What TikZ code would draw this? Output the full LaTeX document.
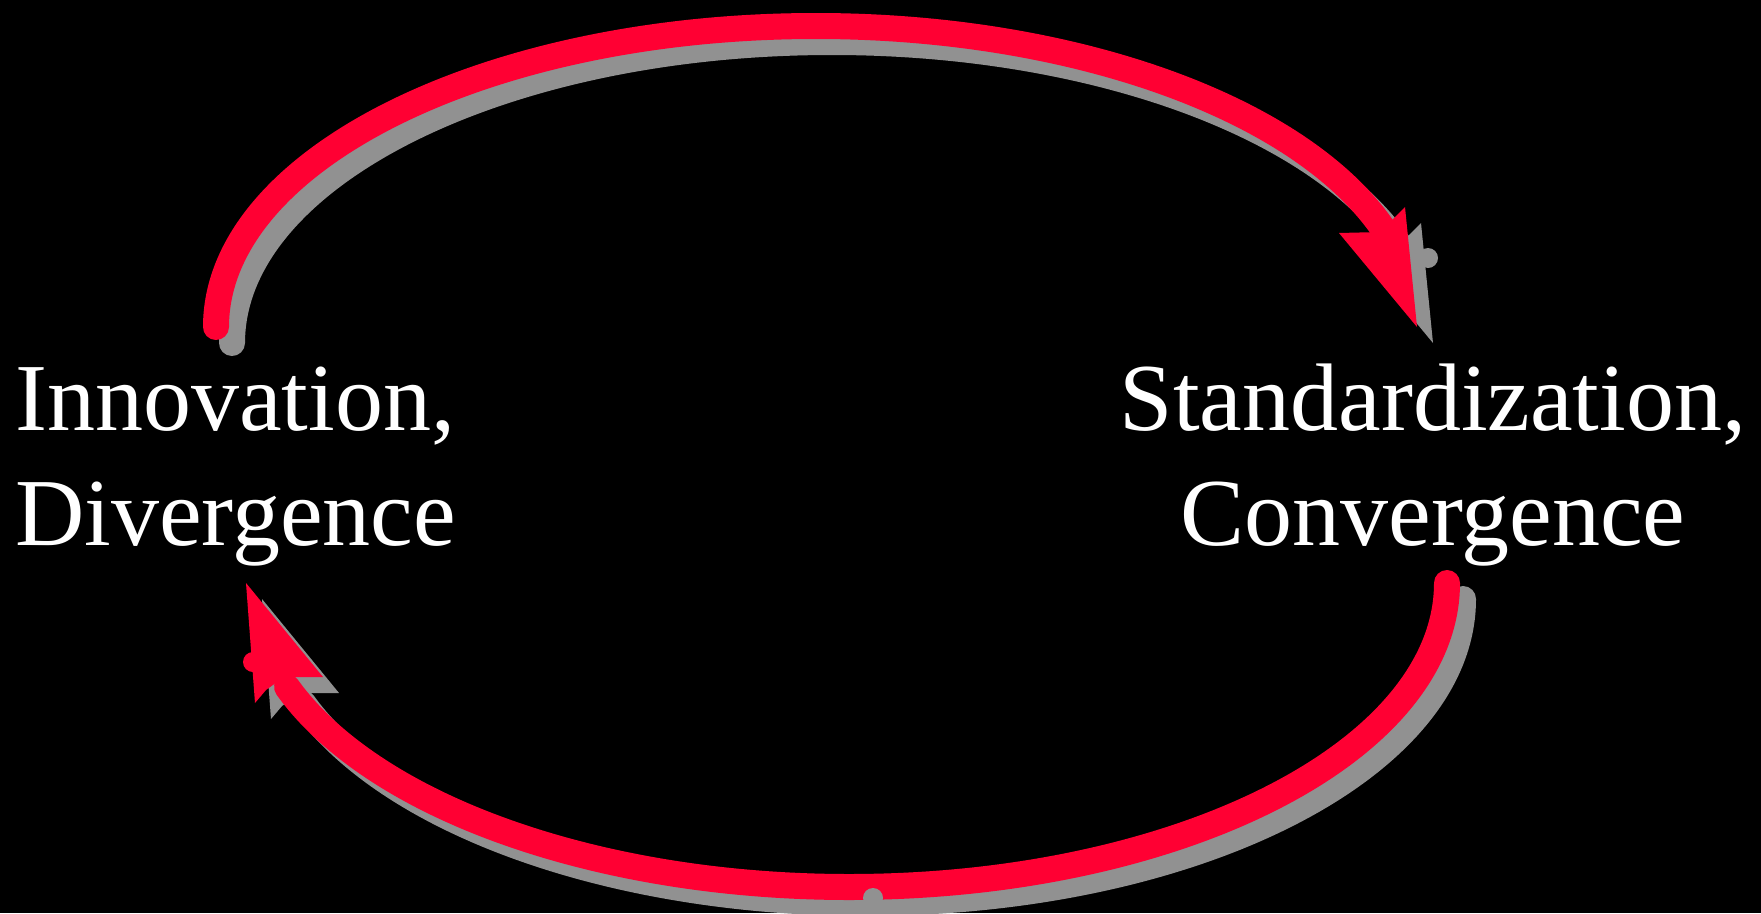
\documentclass[tikz,border=0pt]{standalone}
\usepackage{fontspec}
\setmainfont{Liberation Serif}
\definecolor{arrred}{RGB}{255,0,51}
\definecolor{shadowgray}{RGB}{145,145,145}
\begin{document}
\begin{tikzpicture}[x=1pt,y=-1pt,
  lbl/.style={text=white, font=\fontsize{96}{115}\selectfont, inner sep=0pt},
  band/.style={line width=26pt, line cap=round},
  ]
\fill[black] (0,0) rectangle (1761,913);
\useasboundingbox (0,0) rectangle (1761,913);

\node[lbl, anchor=base west, align=left] (inn) at (15,545) {Innovation,\\Divergence};
\node[lbl, anchor=base, align=center] (std) at (1433,545) {Standardization,\\Convergence};

% top arrow
\coordinate (topstart) at (216,327);
\coordinate (topTip) at (1417,327);
\coordinate (topL) at (1339,233);
\coordinate (topM) at (1380,232);
\coordinate (topR) at (1405,207);
% bottom arrow
\coordinate (botstart) at (1447,583);
\coordinate (botTip) at (246,583);
\coordinate (botL) at (255,703);
\coordinate (botN) at (266,690);
\coordinate (botM) at (284,677);
\coordinate (botR) at (323,677);
\coordinate (botBump) at (253,662);

\foreach \dx/\dy/\col in {16/16/shadowgray, 0/0/arrred} {
  \draw[band, draw=\col] ([shift={(\dx,\dy)}]topstart) arc[start angle=180, end angle=341, x radius=600, y radius=301];
  \fill[\col] ([shift={(\dx,\dy)}]topTip) -- ([shift={(\dx,\dy)}]topL) -- ([shift={(\dx,\dy)}]topM) -- ([shift={(\dx,\dy)}]topR) -- cycle;
  \draw[band, draw=\col] ([shift={(\dx,\dy)}]botstart) arc[start angle=0, end angle=160, x radius=598, y radius=304];
  \fill[\col] ([shift={(\dx,\dy)}]botTip) -- ([shift={(\dx,\dy)}]botL) -- ([shift={(\dx,\dy)}]botN) -- ([shift={(\dx,\dy)}]botM) -- ([shift={(\dx,\dy)}]botR) -- cycle;
  \fill[\col] ([shift={(\dx,\dy)}]botBump) circle[radius=10];
}
\fill[shadowgray] (1428,258) circle[radius=10];
\fill[shadowgray] (873,898) circle[radius=10];
\end{tikzpicture}
\end{document}
